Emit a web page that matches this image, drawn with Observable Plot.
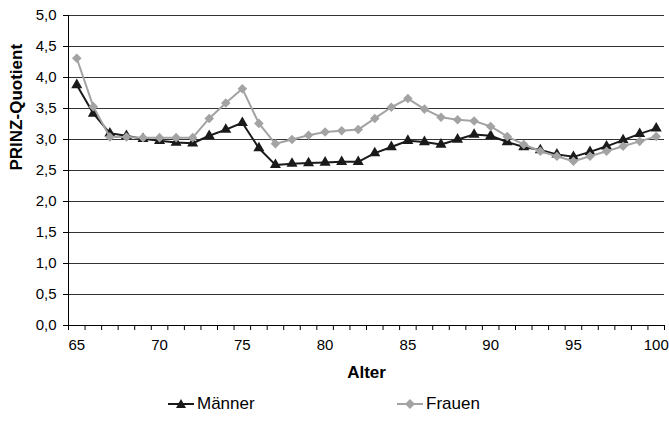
<!DOCTYPE html>
<html><head><meta charset="utf-8">
<script src="https://cdn.jsdelivr.net/npm/d3@7"></script>
<script src="https://cdn.jsdelivr.net/npm/@observablehq/plot@0.6"></script>
<style>
body{margin:0;background:#fff;font-family:"Liberation Sans",Arial,sans-serif;}
#legend{position:relative;height:33px;width:669px;font-size:17px;color:#000;}
.item{position:absolute;top:4px;display:flex;align-items:center;}
.item svg{margin-right:3px;}
</style></head><body><div id="chart"></div><div id="legend"></div>
<script>
const ages = [65,66,67,68,69,70,71,72,73,74,75,76,77,78,79,80,81,82,83,84,85,86,87,88,89,90,91,92,93,94,95,96,97,98,99,100];
const maenner = [3.88,3.42,3.10,3.06,3.01,2.98,2.95,2.94,3.06,3.16,3.27,2.86,2.59,2.61,2.62,2.63,2.64,2.64,2.78,2.88,2.98,2.96,2.92,3.00,3.08,3.06,2.96,2.88,2.83,2.76,2.72,2.80,2.89,2.99,3.09,3.18];
const frauen = [4.31,3.53,3.04,3.04,3.03,3.03,3.03,3.03,3.34,3.59,3.82,3.26,2.93,3.00,3.07,3.12,3.14,3.16,3.34,3.52,3.66,3.49,3.36,3.32,3.30,3.21,3.05,2.92,2.81,2.73,2.65,2.73,2.81,2.89,2.97,3.05];
const yTicks = [0,0.5,1,1.5,2,2.5,3,3.5,4,4.5,5];
const xLabels = [65,70,75,80,85,90,95,100];
const seriesNames = ["Männer","Frauen"];
const colors = ["#1a1a1a","#a3a3a3"];

const dm = ages.map((a,i)=>({age:a, v:maenner[i]}));
const df = ages.map((a,i)=>({age:a, v:frauen[i]}));
const xTickPos = ages.map(a=>a-0.5).concat([ages[ages.length-1]+0.5]);
const fmt = d => d.toFixed(1).replace(".", ",");

const chart = Plot.plot({
  width:669, height:390,
  marginTop:15, marginBottom:65, marginLeft:68, marginRight:5,
  x:{domain:[64.5,100.5], label:null},
  y:{domain:[0,5], label:null},
  style:{fontFamily:"Liberation Sans, Arial, sans-serif", fontSize:"15px", color:"#000", background:"#fff", overflow:"visible"},
  marks:[
    Plot.gridY(yTicks, {stroke:"#333", strokeOpacity:1, strokeWidth:1}),
    Plot.axisY(yTicks, {tickSize:5, tickPadding:7, tickFormat:fmt, label:null, fontSize:15, stroke:"#000"}),
    Plot.ruleX([64.5], {stroke:"#000"}),
    Plot.ruleY([0], {stroke:"#000"}),
    Plot.axisX(xTickPos, {tickSize:5, tickFormat:()=>"", label:null, stroke:"#000"}),
    Plot.axisX(xLabels, {tickSize:0, tickPadding:14, label:null, fontSize:15}),
    Plot.text(["Alter"], {frameAnchor:"bottom", dy:52, fontWeight:"bold", fontSize:17}),
    Plot.text(["PRINZ-Quotient"], {frameAnchor:"left", dx:-52, rotate:-90, fontWeight:"bold", fontSize:17}),
    Plot.lineY(dm, {x:"age", y:"v", stroke:colors[0], strokeWidth:2}),
    Plot.dot(dm, {x:"age", y:"v", symbol:"triangle", fill:colors[0], r:4.1}),
    Plot.lineY(df, {x:"age", y:"v", stroke:colors[1], strokeWidth:2}),
    Plot.dot(df, {x:"age", y:"v", symbol:"diamond2", fill:colors[1], stroke:"none", r:4.3})
  ]
});
document.getElementById("chart").append(chart);

const legend = document.getElementById("legend");
const lefts = [168, 397];
seriesNames.forEach((name,i)=>{
  const d = document.createElement("div");
  d.className = "item";
  d.style.left = lefts[i] + "px";
  const shape = i===0
    ? `<path d="M13,3 L18,12 L8,12 Z" fill="${colors[0]}"/>`
    : `<path d="M13,3 L18,8 L13,13 L8,8 Z" fill="${colors[1]}"/>`;
  d.innerHTML = `<svg width="26" height="16"><line x1="0" y1="8" x2="26" y2="8" stroke="${colors[i]}" stroke-width="2"/>${shape}</svg><span>${name}</span>`;
  legend.append(d);
});
</script></body></html>
